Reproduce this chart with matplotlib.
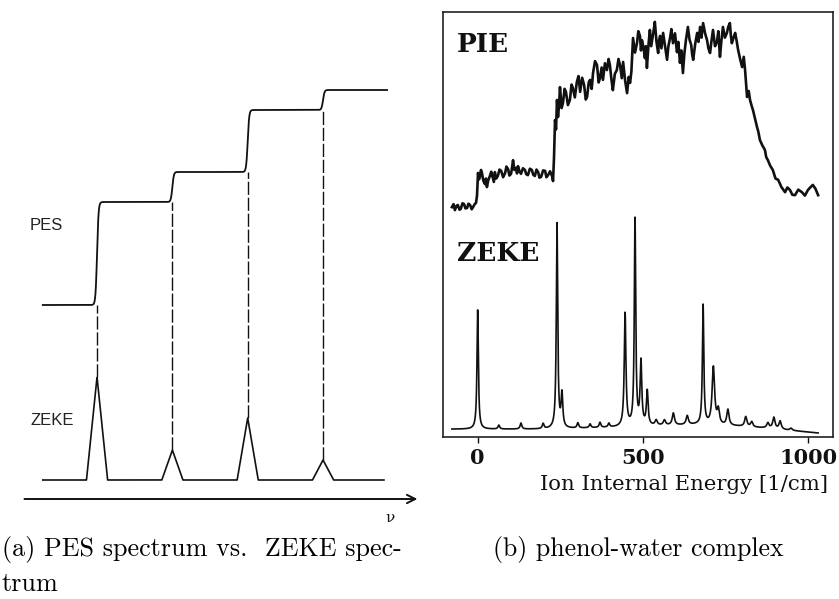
import numpy as np
import matplotlib.pyplot as plt

plt.rcParams['mathtext.fontset'] = 'cm'

# (a) schematic: ionisation thresholds and their intensities
level_nu = [1.0, 2.0, 3.0, 4.0]
level_int = [1.03, 0.30, 0.62, 0.20]   # PES step height == ZEKE peak height
pes_base = 1.94
zeke_base = 0.19
nu_range = [0.28, 4.85]

# (b) phenol-water complex, PIE trace
pie_energy = [-78, -73, -69, -64, -60, -55, -51, -46, -41, -37, -32, -28, -23,
              -18, -14, -9, -5,
              -2,
              1, 4, 7, 10, 13, 17, 22, 25, 28, 32, 37, 41, 46, 49, 52, 56, 61,
              66, 71, 77, 83, 87, 92, 96, 101, 104, 107, 111, 116, 119, 122,
              126, 131, 137, 143, 147, 152, 158, 164, 168, 173, 178, 183, 187,
              192, 198, 204, 208, 213, 219, 225, 228,
              231, 234, 237, 240, 243, 246, 249, 254, 258, 263, 267, 273, 279,
              284, 288, 294, 300, 305, 310, 316, 322, 327, 331, 336, 340, 345,
              349, 355, 361, 366, 370, 375, 379, 385, 391, 396, 400, 405, 409,
              415, 421, 426, 431, 436, 440, 446, 452, 457, 461, 465,
              470, 476, 482, 486, 491, 494, 497, 502, 506, 509, 512, 517, 521,
              525, 530, 533, 536, 541, 546, 549, 552, 556, 561, 567, 573, 577,
              582, 586, 591, 597, 603, 607, 612, 616, 621, 625, 630, 633, 636,
              641, 646, 649, 652, 658, 664, 668, 673, 677, 682, 688, 694, 698,
              703, 707, 712, 718, 724, 728, 733, 737, 742, 748, 754, 758, 763,
              766, 769, 774, 779, 784, 788, 794, 800, 805, 809,
              815, 820, 824, 829, 833, 839, 845, 849, 854, 861, 869, 873, 878,
              885, 893, 901, 909, 919, 930, 937, 945, 952, 960, 970, 981, 990,
              999, 1006, 1014, 1022, 1030]
pie_signal = [54.3, 55.0, 53.6, 54.6, 54.8, 53.7, 53.9, 55.2, 55.0, 54.0, 54.1,
              55.1, 54.8, 53.8, 54.3, 55.0, 55.3,
              57.0,
              62.3, 60.8, 61.6, 63.0, 62.3, 60.5, 59.7, 61.0, 59.0, 60.6, 61.6,
              62.6, 61.1, 60.2, 62.5, 61.0, 61.6, 63.1, 62.8, 61.3, 62.3, 63.8,
              63.2, 61.7, 62.1, 63.6, 65.3, 63.0, 63.5, 62.2, 63.9, 62.8, 62.1,
              63.4, 63.0, 62.0, 61.8, 63.3, 63.0, 61.9, 61.6, 63.1, 62.5, 61.2,
              61.4, 62.9, 62.8, 61.3, 61.8, 62.7, 61.6, 60.4,
              66.0, 74.7, 72.5, 79.4, 75.4, 78.0, 82.4, 77.5, 78.7, 82.0, 81.3,
              78.2, 79.4, 83.0, 82.2, 80.0, 83.6, 85.0, 81.3, 84.6, 82.9, 79.5,
              80.1, 83.5, 84.1, 82.0, 85.7, 88.5, 87.6, 83.5, 84.5, 87.0, 84.1,
              88.0, 86.4, 89.0, 87.6, 84.0, 81.7, 85.5, 86.4, 89.0, 87.4, 84.5,
              88.3, 84.0, 81.0, 84.8, 83.4, 86.0,
              93.9, 90.5, 92.7, 95.5, 94.4, 91.0, 93.4, 91.5, 89.2, 92.0, 86.9,
              92.5, 95.8, 92.0, 94.4, 96.0, 97.7, 93.0, 90.4, 93.5, 94.4, 91.5,
              95.1, 92.0, 88.8, 92.0, 93.9, 96.0, 92.7, 95.0, 90.6, 93.0, 88.1,
              91.0, 85.7, 90.0, 93.4, 95.0, 96.5, 93.5, 92.3, 90.0, 88.8, 92.5,
              95.1, 93.0, 96.5, 94.0, 97.4, 95.0, 93.4, 91.5, 90.4, 93.0, 95.8,
              92.0, 93.0, 95.5, 89.5, 93.0, 96.5, 94.0, 95.1, 96.5, 97.4, 94.5,
              92.7, 94.0, 95.1, 93.0, 91.1, 89.0, 87.1, 89.5, 86.4,
              80.1, 81.5, 79.4, 78.0, 77.0, 75.0, 73.1, 72.0, 70.0, 68.8, 67.7,
              66.0, 65.3, 64.0, 63.0, 61.0, 60.7, 59.0, 57.8, 58.9, 58.3, 57.2,
              57.1, 58.4, 57.8, 57.0, 58.3, 58.9, 59.5, 58.6, 57.1]

# ZEKE lines: position [1/cm], height, width
zeke_pos = [0, 64, 131, 198, 240, 255, 303, 340, 370, 397, 446, 476, 494, 513,
            540, 565, 592, 634, 682, 713, 728, 757, 811, 829, 878, 896, 915, 948]
zeke_height = [28.0, 0.9, 1.4, 1.2, 48.0, 7.8, 1.2, 0.9, 1.2, 0.9, 26.5, 48.5,
               14.8, 8.0, 1.2, 1.2, 2.8, 2.1, 28.0, 13.5, 3.3, 3.7, 2.3, 1.2,
               1.2, 2.6, 1.9, 0.5]
zeke_fwhm = [5, 6, 6, 6, 5, 6, 6, 6, 6, 6, 6, 5, 6, 6,
             8, 8, 8, 8, 5, 9, 8, 8, 8, 8, 8, 8, 8, 8]
zeke_bg_energy = [-78, 200, 420, 560, 660, 780, 880, 960, 1030]
zeke_bg = [2.3, 2.3, 2.7, 3.1, 3.3, 3.0, 2.5, 1.9, 1.4]

ink = '#111111'
fig = plt.figure(figsize=(8.39, 5.99), dpi=100)

# ---------------- (a) ----------------
ax = fig.add_axes([0, 69 / 599, 430 / 839, 530 / 599])
ax.set_xlim(-0.288, 5.42)
ax.set_ylim(-0.31, 4.99)
ax.axis('off')

nu = np.linspace(nu_range[0], nu_range[1], 3000)
pes = np.full_like(nu, pes_base)
zeke = np.full_like(nu, zeke_base)
for c, a in zip(level_nu, level_int):
    pes += a / (1 + np.exp(-(nu - c) / 0.010))
    zeke += a * np.clip(1 - np.abs(nu - c) / 0.14, 0, None)
ax.plot(nu, pes, color=ink, lw=1.3)
ax.plot(nu[nu <= 4.81], zeke[nu <= 4.81], color=ink, lw=1.2)

below = pes_base
for c, a in zip(level_nu, level_int):
    ax.plot([c, c], [zeke_base + a, below], color=ink, lw=1.0,
            linestyle=(0, (9.5, 2.0)))
    below += a

ax.annotate('', xy=(5.29, 0), xytext=(0, 0),
            arrowprops=dict(arrowstyle='->', lw=1.4, color=ink, mutation_scale=15))
ax.text(30 / 75.3 - 0.288, 2.69, 'PES', fontname='Liberation Sans',
        fontsize=12, color='#222222', va='baseline')
ax.text(30 / 75.3 - 0.288, 0.74, 'ZEKE', fontname='Liberation Sans',
        fontsize=12, color='#222222', va='baseline')
ax.text(4.89, -0.19, 'ν', fontname='DejaVu Serif', fontsize=11,
        ha='center', va='center', color=ink)

# ---------------- (b) ----------------
bx = fig.add_axes([443 / 839, 162 / 599, 390 / 839, 425 / 599])
bx.set_xlim(-104.9, 1075)
bx.set_ylim(0.47, 100)

bx.plot(pie_energy, pie_signal, color=ink, lw=1.9)

energy = np.linspace(-78, 1030, 4000)
trace = np.interp(energy, zeke_bg_energy, zeke_bg)
for p, h, w in zip(zeke_pos, zeke_height, zeke_fwhm):
    g = w / 2
    trace += h * g ** 2 / ((energy - p) ** 2 + g ** 2)
bx.plot(energy, trace, color=ink, lw=1.2)

for s in bx.spines.values():
    s.set_color('#222222')
    s.set_linewidth(1.2)
bx.set_yticks([])
bx.set_xticks([0, 500, 1000])
bx.set_xticklabels(['0', '500', '1000'], fontname='DejaVu Serif',
                   fontweight='bold', fontsize=15)
bx.tick_params(axis='x', direction='out', length=4, width=1.0, pad=4,
               colors=ink)

bx.text(0.036, 0.905, 'PIE', transform=bx.transAxes, fontname='DejaVu Serif',
        fontweight='bold', fontsize=19, color=ink)
bx.text(0.036, 0.415, 'ZEKE', transform=bx.transAxes, fontname='DejaVu Serif',
        fontweight='bold', fontsize=19, color=ink)

fig.text(684 / 839, 1 - 490 / 599, 'Ion Internal Energy [1/cm]',
         fontname='DejaVu Serif', fontsize=15.3, ha='center', va='baseline',
         color=ink)

# captions
fig.text(2 / 839, 1 - 556 / 599, '(a) PES spectrum vs.  ZEKE spec-',
         fontname='cmr10', fontsize=18.8, va='baseline')
fig.text(2 / 839, 1 - 591 / 599, 'trum', fontname='cmr10', fontsize=18.8,
         va='baseline')
fig.text(493 / 839, 1 - 556 / 599, '(b) phenol-water complex',
         fontname='cmr10', fontsize=18.6, va='baseline')

fig.savefig('out.png', dpi=100)
